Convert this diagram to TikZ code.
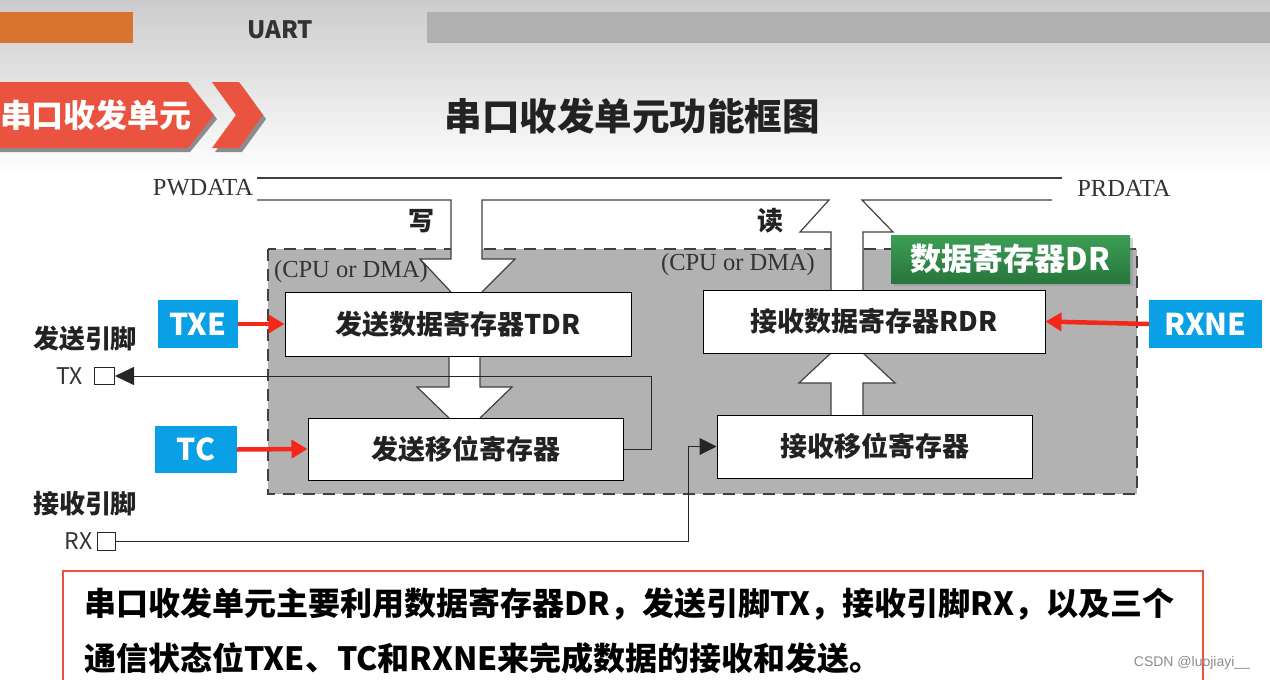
\documentclass[tikz,border=0pt]{standalone}
\usepackage{fontspec}
\setmainfont{Liberation Serif}
\newfontfamily\cjk{Noto Sans CJK SC}
\newfontfamily\latinsans{Liberation Sans}
\usetikzlibrary{arrows.meta,positioning,shadows}
\definecolor{tagred}{HTML}{E9533F}
\definecolor{barorange}{HTML}{D9742E}
\definecolor{bargray}{HTML}{B0B0B0}
\definecolor{flagblue}{HTML}{0AA0E6}
\definecolor{flagred}{HTML}{F5261A}
\definecolor{drgreen}{HTML}{3C9E55}
\definecolor{drgreendark}{HTML}{27763C}
\definecolor{inkgray}{HTML}{222222}
\begin{document}
\begin{tikzpicture}[x=1pt, y=-1pt,
  regbox/.style={draw=black, line width=1pt, fill=white, inner sep=0pt,
    font=\cjk\bfseries\fontsize{27}{30}\selectfont, text=inkgray},
  flagbox/.style={fill=flagblue, text=white, inner sep=0pt,
    font=\cjk\bfseries\fontsize{30}{34}\selectfont},
  flagarrow/.style={-{Triangle[length=16pt,width=18pt]}, draw=flagred, line width=4.5pt},
  sigline/.style={draw=black!85, line width=1pt},
  busline/.style={draw=black!75, line width=1.2pt},
  pinbox/.style={draw=black!85, line width=1pt, fill=white, inner sep=0pt},
  pinlabel/.style={font=\cjk\bfseries\fontsize{26}{30}\selectfont, text=inkgray},
  pinname/.style={font=\cjk\fontsize{23}{26}\selectfont, text=black!80, inner sep=0pt},
  busname/.style={font=\fontsize{24.5}{28}\selectfont, text=black!80},
  notetext/.style={font=\cjk\bfseries\fontsize{32}{35}\selectfont, text=black, inner sep=0pt, anchor=west},
]
  \useasboundingbox (0,0) rectangle (1270,680);

  % Header strip
  \shade[top color=gray!40, bottom color=white] (0,0) rectangle (1270,175);
  \fill[barorange] (0,12) rectangle (133,43);
  \fill[bargray] (427,12) rectangle (1270,43);
  \node[font=\cjk\bfseries\fontsize{24}{28}\selectfont, text=black!80] (uart) at (280,30) {UART};

  % Section tag
  \fill[black!45] (0,86) -- (190,86) -- (217,119) -- (190,152) -- (0,152) -- cycle;
  \fill[black!45] (215,86) -- (242,86) -- (266,119) -- (242,152) -- (215,152) -- (239,119) -- cycle;
  \fill[tagred] (0,82) -- (188,82) -- (214,115) -- (188,148) -- (0,148) -- cycle;
  \fill[tagred] (212,82) -- (239,82) -- (263,115) -- (239,148) -- (212,148) -- (236,115) -- cycle;
  \node[font=\cjk\bfseries\fontsize{32}{35}\selectfont, text=white] (tag) at (96,115) {串口收发单元};

  % Title
  \node[font=\cjk\bfseries\fontsize{37.5}{40}\selectfont, text=inkgray] (title) at (632,116) {串口收发单元功能框图};

  % Dashed unit area
  \draw[fill=gray!60, draw=black!75, line width=1.5pt, dash pattern=on 12pt off 8pt]
    (268,249) rectangle (1137,494);

  % Write and read paths of the bus
  \fill[white] (451,244) -- (451,259) -- (420,259) -- (451,292) -- (482,292) -- (515,259) -- (482,259) -- (482,244) -- cycle;
  \fill[white] (831,244) rectangle (863,292);
  \draw[busline] (257,178) -- (1062,178);
  \draw[busline] (257,200) -- (451,200) -- (451,259) -- (420,259) -- (451,292);
  \draw[busline] (482,292) -- (515,259) -- (482,259) -- (482,200) -- (829,200)
    -- (800,232) -- (831,232) -- (831,290);
  \draw[busline] (863,290) -- (863,232) -- (893,232) -- (862,200) -- (1052,200);

  % Transfer arrows between registers
  \fill[white] (449,354) -- (449,387) -- (417,387) -- (449,418) -- (480,418) -- (512,387) -- (480,387) -- (480,354) -- cycle;
  \draw[busline] (449,356) -- (449,387) -- (417,387) -- (449,418);
  \draw[busline] (480,418) -- (512,387) -- (480,387) -- (480,356);
  \fill[white] (831,417) -- (831,383) -- (799,383) -- (831,353) -- (863,353) -- (895,383) -- (863,383) -- (863,417) -- cycle;
  \draw[busline] (831,415) -- (831,383) -- (799,383) -- (831,353);
  \draw[busline] (863,353) -- (895,383) -- (863,383) -- (863,415);

  % Registers
  \node[regbox, minimum width=346pt, minimum height=64pt] (tdr) at (458,324) {发送数据寄存器TDR};
  \node[regbox, minimum width=342pt, minimum height=63pt] (rdr) at (874,321.5) {接收数据寄存器RDR};
  \node[regbox, minimum width=315pt, minimum height=62pt] (txsr) at (465.5,449) {发送移位寄存器};
  \node[regbox, minimum width=315pt, minimum height=63pt] (rxsr) at (874.5,446.5) {接收移位寄存器};

  % Labels of the bus
  \node[busname] (pwdata) at (203,188) {PWDATA};
  \node[busname] (prdata) at (1124,188) {PRDATA};
  \node[busname] (cpuw) at (351,272) {(CPU or DMA)};
  \node[busname] (cpur) at (738,265) {(CPU or DMA)};
  \node[pinlabel] (wr) at (421,221) {写};
  \node[pinlabel] (rd) at (770,221) {读};

  % Pins
  \node[pinbox, minimum width=20pt, minimum height=17pt] (txpin) at (104.5,376) {};
  \node[pinbox, minimum width=18pt, minimum height=18pt] (rxpin) at (106,541) {};
  \node[pinname, left=11pt of txpin] (txname) {TX};
  \node[pinname, left=4pt of rxpin] (rxname) {RX};
  \node[pinlabel] (txtitle) at (85,339) {发送引脚};
  \node[pinlabel] (rxtitle) at (85,504) {接收引脚};
  \draw[sigline, -{Triangle[length=19pt,width=18pt]}] (txsr.east) -- ++(28,0) |- (txpin.east);
  \draw[sigline, -{Triangle[length=17pt,width=17pt]}] (rxpin.east) -- ++(573,0) |- (rxsr.west);

  % Status flags
  \node[flagbox, minimum width=80pt, minimum height=48pt] (txe) at (198,324) {TXE};
  \node[flagbox, minimum width=82pt, minimum height=47pt] (tc) at (196,449.5) {TC};
  \node[flagbox, minimum width=113pt, minimum height=48pt] (rxne) at (1205.5,324) {RXNE};
  \draw[flagarrow] (txe.east) -- (tdr.west);
  \draw[flagarrow] (tc.east) -- (txsr.west);
  \draw[flagarrow] (rxne.west) -- (rdr.east);

  % Data register tag
  \node[top color=drgreen, bottom color=drgreendark, text=white, inner sep=0pt,
    minimum width=239pt, minimum height=48pt,
    drop shadow={opacity=0.35, shadow xshift=3pt, shadow yshift=-3pt},
    font=\cjk\bfseries\fontsize{31}{34}\selectfont] (dr) at (1010.5,259) {数据寄存器DR};

  % Summary
  \draw[draw=tagred, line width=2.5pt] (63,690) -- (63,571) -- (1203,571) -- (1203,690);
  \node[notetext] (note1) at (84,604) {串口收发单元主要利用数据寄存器DR，发送引脚TX，接收引脚RX，以及三个};
  \node[notetext] (note2) at (84,658) {通信状态位TXE、TC和RXNE来完成数据的接收和发送。};
  \node[font=\latinsans\fontsize{14}{16}\selectfont, text=black!45] (mark) at (1192,663) {CSDN @luojiayi\_\_};
\end{tikzpicture}
\end{document}
